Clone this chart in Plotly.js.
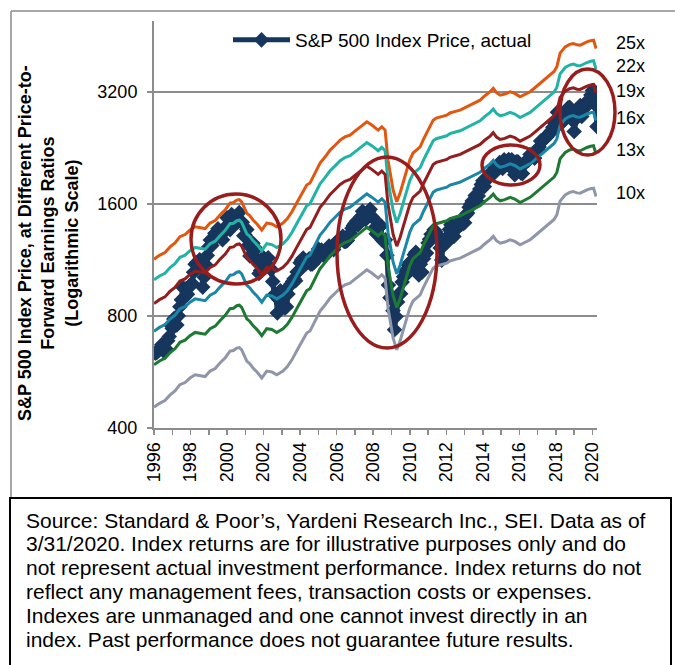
<!DOCTYPE html>
<html>
<head>
<meta charset="utf-8">
<script src="https://cdn.plot.ly/plotly-3.0.1.min.js"></script>
<style>html,body{margin:0;padding:0;background:#fff;}#chart{width:675px;height:665px;}</style>
</head>
<body>
<div id="chart"></div>
<script>
// ---------------- DATA ----------------
// S&P 500 month-end closes, Jan 1996 .. Mar 2020
const spxStartYear = 1996;
const spx = [
636,640,645,654,669,671,640,652,687,705,757,741,
786,791,757,801,848,885,954,899,947,915,955,970,
980,1049,1102,1112,1091,1134,1121,957,1017,1099,1164,1229,
1280,1238,1286,1335,1302,1373,1329,1320,1283,1363,1389,1469,
1394,1366,1499,1452,1421,1455,1431,1518,1437,1429,1315,1320,
1366,1240,1160,1249,1256,1224,1211,1134,1041,1060,1139,1148,
1130,1107,1147,1076,1068,990,912,916,815,886,936,880,
856,841,848,917,964,975,990,1008,996,1051,1058,1112,
1131,1145,1126,1107,1121,1141,1102,1104,1115,1130,1174,1212,
1181,1204,1181,1157,1192,1191,1234,1220,1229,1207,1249,1248,
1280,1281,1295,1311,1270,1270,1277,1304,1336,1378,1401,1418,
1438,1407,1421,1482,1531,1503,1455,1474,1527,1549,1481,1468,
1379,1331,1323,1386,1400,1280,1267,1283,1166,969,896,903,
826,735,798,873,919,919,987,1021,1057,1036,1096,1115,
1074,1104,1169,1187,1089,1031,1102,1049,1141,1183,1181,1258,
1286,1327,1326,1364,1345,1321,1292,1219,1131,1253,1247,1258,
1312,1366,1408,1398,1310,1362,1379,1407,1441,1412,1416,1426,
1498,1515,1569,1598,1631,1606,1686,1633,1682,1757,1806,1848,
1783,1859,1872,1884,1924,1960,1931,2003,1972,2018,2068,2059,
1995,2105,2068,2086,2107,2063,2104,1972,1920,2079,2080,2044,
1940,1932,2060,2065,2097,2099,2174,2171,2168,2126,2199,2239,
2279,2364,2363,2384,2412,2423,2470,2472,2519,2575,2648,2674,
2824,2714,2641,2648,2705,2718,2816,2902,2914,2712,2760,2507,
2704,2784,2834,2946,2752,2942,2980,2926,2977,3038,3141,3231,
3226,2954,2585
];

// Forward 12-month earnings per share
const epsYears = [
1996.0,1996.3,1996.6,1996.88,1997.15,1997.42,1997.7,1997.97,1998.25,1998.52,1998.8,
1999.07,1999.35,1999.61,1999.9,2000.16,2000.35,2000.53,2000.67,2000.8,2001.08,2001.25,
2001.42,2001.65,2001.9,2002.17,2002.45,2002.72,2003.06,2003.3,2003.55,2003.81,2004.1,
2004.36,2004.54,2004.8,2005.09,2005.35,2005.64,2005.9,2006.19,2006.45,2006.73,2007.0,
2007.28,2007.45,2007.65,2007.92,2008.1,2008.27,2008.47,2008.65,2008.81,2008.95,2009.09,
2009.29,2009.47,2009.65,2009.84,2010.0,2010.18,2010.35,2010.57,2010.75,2010.93,2011.1,
2011.28,2011.45,2011.66,2011.85,2012.03,2012.2,2012.37,2012.55,2012.76,2013.0,2013.31,
2013.55,2013.85,2014.1,2014.4,2014.57,2014.75,2014.95,2015.2,2015.5,2015.75,2016.04,
2016.3,2016.59,2016.85,2017.14,2017.4,2017.69,2017.9,2018.05,2018.23,2018.51,2018.75,
2018.95,2019.15,2019.33,2019.5,2019.7,2019.9,2020.06,2020.2
];
const fwdEps = [
45.5,46.6,47.4,49.1,50.3,52.3,53.0,54.5,55.6,55.2,55.0,
56.9,57.8,59.8,61.8,64.4,64.6,65.6,65.8,64.9,60.5,59.5,
58.0,56.5,54.5,56.9,56.6,55.6,56.9,58.5,61.0,64.4,68.5,
72.0,72.9,77.0,82.5,85.5,89.4,92.0,95.1,97.0,98.1,100.5,
103.3,105.0,106.5,104.4,102.5,101.2,103.3,101.2,84.0,76.0,69.8,
64.9,68.5,73.5,79.0,84.0,87.8,89.5,91.2,95.5,99.3,103.5,
107.6,109.0,109.9,110.5,111.0,112.5,113.3,113.8,114.5,116.0,118.1,
119.8,121.8,125.0,128.3,131.0,127.5,125.6,126.5,128.3,127.0,124.3,
126.0,128.3,131.5,135.1,138.5,142.2,145.5,149.7,162.9,169.4,172.0,
173.0,171.5,171.2,173.0,174.7,176.0,176.6,167.7
];

const multiples = [25, 22, 19, 16, 13, 10];
const multipleLabels = ['25x', '22x', '19x', '16x', '13x', '10x'];
const yTickVals = [400, 800, 1600, 3200];
const xYears = [];
for (let y = 1996; y <= 2020; y++) xYears.push(y);
const xTickText = xYears.map(y => (y % 2 === 0 ? String(y) : ''));
const sourceLines = [
  'Source: Standard & Poor’s, Yardeni Research Inc., SEI. Data as of',
  '3/31/2020. Index returns are for illustrative purposes only and do',
  'not represent actual investment performance. Index returns do not',
  'reflect any management fees, transaction costs or expenses.',
  'Indexes are unmanaged and one cannot invest directly in an',
  'index. Past performance does not guarantee future results.'
];

// ---------------- STYLE / LAYOUT ----------------
const W = 675, H = 665;
const L = 154, R = 597, T = 21, B = 428;
const px2x = p => (p - L) / (R - L);
const py2y = p => (B - p) / (B - T);

const ratioColors = ['#E2570F', '#21B3A6', '#921E1E', '#1A86A8', '#1D7A33', '#9096A9'];
const labelY = [43, 66, 91, 118, 150, 193];
const navy = '#17365D';
const ellipseColor = '#9A1D1D';
const font = 'Liberation Sans, Arial, sans-serif';

const spxX = spx.map((v, i) => spxStartYear + (i + 1) / 12);

const traces = [];
traces.push({
  type: 'scatter', mode: 'lines+markers', name: 'S&P 500 Index Price, actual',
  x: spxX, y: spx,
  line: {color: navy, width: 5},
  marker: {symbol: 'diamond', size: 12, color: navy},
  showlegend: true
});
multiples.forEach((m, k) => {
  traces.push({
    type: 'scatter', mode: 'lines', name: multipleLabels[k],
    x: epsYears, y: fwdEps.map(e => e * m),
    line: {color: ratioColors[k], width: 3},
    showlegend: false
  });
});

const annotations = multipleLabels.map((t, k) => ({
  xref: 'paper', yref: 'paper', x: px2x(614), y: py2y(labelY[k]),
  xanchor: 'left', yanchor: 'middle', text: t, showarrow: false,
  font: {family: font, size: 18, color: '#000'}
}));
annotations.push({
  xref: 'paper', yref: 'paper', x: px2x(49), y: py2y(243),
  xanchor: 'center', yanchor: 'middle', textangle: -90, showarrow: false,
  text: '<b>S&P 500 Index Price, at Different Price-to-<br>Forward Earnings Ratios<br>(Logarithmic Scale)</b>',
  font: {family: font, size: 18, color: '#000'}
});
sourceLines.forEach((t, k) => {
  annotations.push({
    xref: 'paper', yref: 'paper', x: px2x(24), y: py2y(520 + 23.8 * k),
    xanchor: 'left', yanchor: 'middle', align: 'left', showarrow: false,
    text: t, font: {family: font, size: 21, color: '#000'}
  });
});

function ell(x0, y0, x1, y1) {
  return {type: 'circle', xref: 'paper', yref: 'paper', layer: 'above',
    x0: px2x(x0), x1: px2x(x1), y0: py2y(y1), y1: py2y(y0),
    line: {color: ellipseColor, width: 3.5}};
}
const shapes = [
  ell(191, 194, 281, 284),
  ell(337, 157, 437, 348),
  ell(482, 145, 540, 185),
  ell(560, 69, 615, 155),
  // outer frame lines
  {type: 'line', xref: 'paper', yref: 'paper', x0: px2x(11), x1: px2x(676), y0: py2y(11), y1: py2y(11), line: {color: '#A6A6A6', width: 2}},
  {type: 'line', xref: 'paper', yref: 'paper', x0: px2x(11), x1: px2x(11), y0: py2y(11), y1: py2y(498), line: {color: '#A6A6A6', width: 2}},
  // source box
  {type: 'rect', xref: 'paper', yref: 'paper', x0: px2x(10), x1: px2x(671), y0: py2y(498), y1: py2y(690), line: {color: '#000', width: 2}}
];

const layout = {
  width: W, height: H, autosize: false,
  margin: {l: L, r: W - R, t: T, b: H - B, pad: 0},
  paper_bgcolor: '#fff', plot_bgcolor: '#fff',
  font: {family: font, size: 18, color: '#000'},
  showlegend: true,
  legend: {x: px2x(228), y: py2y(40), xanchor: 'left', yanchor: 'middle', itemwidth: 57,
    bgcolor: 'rgba(0,0,0,0)', borderwidth: 0, font: {family: font, size: 19, color: '#000'}},
  xaxis: {
    type: 'linear', range: [1996, 2020.25], tickmode: 'array',
    tickvals: xYears, ticktext: xTickText, tickangle: -90,
    ticks: 'outside', ticklen: 5, tickwidth: 1.5, tickcolor: '#8C8C8C',
    showline: true, linecolor: '#8C8C8C', linewidth: 2, showgrid: false, zeroline: false,
    tickfont: {family: font, size: 18, color: '#000'}
  },
  yaxis: {
    type: 'log', range: [Math.log10(400), Math.log10(4970)], tickmode: 'array',
    tickvals: yTickVals, ticktext: yTickVals.map(String),
    ticks: 'outside', ticklen: 5, tickwidth: 1.5, tickcolor: '#8C8C8C',
    ticklabelstandoff: 6,
    showline: true, linecolor: '#8C8C8C', linewidth: 2,
    showgrid: true, gridcolor: '#8C8C8C', gridwidth: 1.5, zeroline: false,
    tickfont: {family: font, size: 18, color: '#000'}
  },
  annotations: annotations,
  shapes: shapes
};

Plotly.newPlot('chart', traces, layout, {displayModeBar: false, staticPlot: true});
</script>
</body>
</html>
